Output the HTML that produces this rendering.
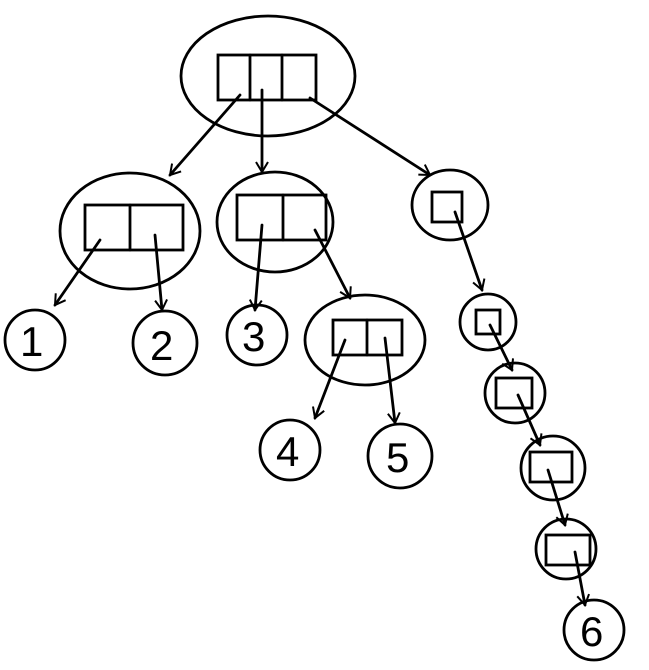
<!DOCTYPE html>
<html><head><meta charset="utf-8"><style>
html,body{margin:0;padding:0;background:#fff;}
svg{display:block}
text{font-family:"Liberation Sans",sans-serif;font-size:42px;fill:#000;font-weight:300}
</style></head><body>
<svg width="649" height="670" viewBox="0 0 649 670" xmlns="http://www.w3.org/2000/svg">
<defs><marker id="a" markerWidth="14" markerHeight="14" refX="11" refY="7" orient="auto" markerUnits="userSpaceOnUse">
<path d="M1,1 L11,7 L1,13" fill="none" stroke="#000" stroke-width="2"/></marker></defs>
<g fill="none" stroke="#000" stroke-width="2.8" stroke-linecap="round">
<ellipse cx="268" cy="76" rx="87" ry="60"/>
<rect x="218" y="55" width="98" height="45"/><line x1="250" y1="55" x2="250" y2="100"/><line x1="282" y1="55" x2="282" y2="100"/>
<ellipse cx="130" cy="231" rx="70" ry="58"/>
<rect x="85" y="205" width="98" height="45"/><line x1="130" y1="205" x2="130" y2="250"/>
<ellipse cx="275" cy="222" rx="58" ry="50"/>
<rect x="237" y="195" width="89" height="45"/><line x1="283" y1="195" x2="283" y2="240"/>
<ellipse cx="450" cy="205" rx="38" ry="35"/>
<rect x="432" y="192" width="30" height="30"/>
<circle cx="35" cy="340" r="30"/><circle cx="165" cy="343" r="32"/><circle cx="257" cy="335" r="30"/>
<ellipse cx="365" cy="340" rx="60" ry="45"/>
<rect x="333" y="320" width="69" height="35"/><line x1="367" y1="320" x2="367" y2="355"/>
<circle cx="290" cy="450" r="30"/><circle cx="400" cy="456" r="32"/>
<circle cx="488" cy="322" r="28"/><rect x="476" y="310" width="24" height="24"/>
<circle cx="515" cy="393" r="30"/><rect x="496" y="378" width="36" height="30"/>
<circle cx="553" cy="468" r="32"/><rect x="530" y="452" width="42" height="30"/>
<circle cx="566" cy="549" r="30"/><rect x="546" y="535" width="44" height="30"/>
<circle cx="594" cy="630" r="30"/>
<g marker-end="url(#a)">
<line x1="240" y1="95" x2="170" y2="175"/>
<line x1="262" y1="90" x2="262" y2="172"/>
<line x1="310" y1="98" x2="430" y2="175"/>
<line x1="100" y1="240" x2="55" y2="305"/>
<line x1="155" y1="235" x2="162" y2="310"/>
<line x1="262" y1="225" x2="255" y2="310"/>
<line x1="315" y1="230" x2="350" y2="298"/>
<line x1="455" y1="212" x2="482" y2="290"/>
<line x1="490" y1="325" x2="512" y2="370"/>
<line x1="518" y1="395" x2="540" y2="445"/>
<line x1="548" y1="470" x2="565" y2="525"/>
<line x1="575" y1="552" x2="585" y2="605"/>
<line x1="345" y1="340" x2="315" y2="418"/>
<line x1="385" y1="338" x2="395" y2="423"/>
</g>
</g>
<text x="20" y="356">1</text>
<text x="150" y="360">2</text>
<text x="242" y="351">3</text>
<text x="276" y="466">4</text>
<text x="386" y="472">5</text>
<text x="580" y="646">6</text>
</svg>
</body></html>
